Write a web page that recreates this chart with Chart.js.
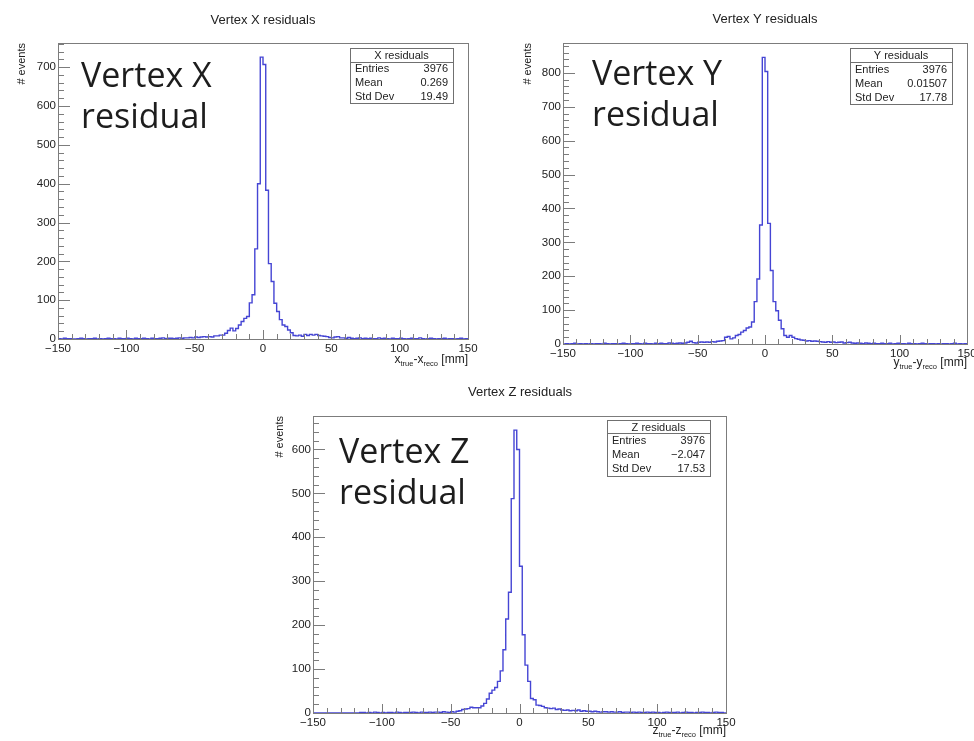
<!DOCTYPE html>
<html lang="en">
<head>
<meta charset="UTF-8">
<title>Vertex residuals</title>
<script src="https://cdn.jsdelivr.net/npm/chart.js"></script>
<style>
  body {
    margin: 0;
    width: 974px;
    height: 741px;
    background: #ffffff;
    position: relative;
    overflow: hidden;
  }
  canvas { position: absolute; }
</style>
</head>
<body>
<canvas id="cX" width="490" height="372" style="left:0;top:0"></canvas>
<canvas id="cY" width="484" height="376" style="left:490px;top:0"></canvas>
<canvas id="cZ" width="480" height="363" style="left:260px;top:378px"></canvas>

<script>
  // histogram binning: 150 bins of 2 mm from -150 to 150
  const xMin = -150, xMax = 150, binWidth = 2;

  // counts per bin, left to right
  const xCounts = [
    1,0,2,1,1,0,0,1,2,1,
    0,1,1,2,0,1,0,1,2,1,
    1,0,2,1,1,2,1,0,2,1,
    1,2,1,0,2,1,1,2,3,1,
    2,2,1,2,3,2,3,3,4,3,
    5,4,5,6,5,6,5,8,8,10,
    10,15,22,28,21,27,36,45,53,58,
    93,114,232,400,726,707,383,194,148,92,
    71,50,36,32,23,16,9,8,10,7,
    12,9,12,10,12,9,8,7,6,4,
    3,5,6,3,3,2,4,2,1,2,
    3,1,2,1,2,1,1,3,1,2,
    1,0,2,1,1,2,1,0,1,2,
    1,1,3,1,0,1,2,1,0,1,
    1,2,0,1,1,0,1,2,0,1
  ];
  const yCounts = [
    0,1,0,1,2,0,1,0,1,0,
    1,0,1,1,0,2,1,0,1,1,
    0,1,2,1,0,1,1,2,1,0,
    2,1,1,0,2,1,2,1,1,3,
    2,1,2,3,2,3,5,8,4,3,
    5,6,5,6,5,7,6,8,9,10,
    20,22,15,18,25,28,35,40,47,50,
    65,125,192,351,846,804,356,217,125,98,
    70,45,25,20,25,20,16,14,12,11,
    9,10,8,9,8,7,6,5,7,5,
    6,4,5,6,3,4,5,3,2,3,
    2,1,3,2,1,2,1,1,2,1,
    1,2,0,1,2,1,1,0,2,1,
    1,0,1,2,1,0,1,1,0,1,
    0,1,1,0,1,2,0,1,0,1
  ];
  const zCounts = [
    0,0,0,0,0,0,0,0,0,0,
    0,0,0,0,0,0,0,1,1,0,
    1,0,2,1,0,1,0,1,1,0,
    2,1,0,1,1,1,2,1,0,2,
    1,1,2,1,2,2,1,3,2,1,
    3,2,4,5,8,9,10,13,12,12,
    12,16,22,32,45,52,58,72,96,144,
    214,275,488,644,600,334,178,109,72,33,
    30,18,17,15,12,11,10,11,8,9,
    7,6,7,5,6,5,7,4,5,4,
    4,3,4,3,2,3,3,2,3,2,
    2,3,1,2,2,1,2,1,2,1,
    1,2,1,2,1,1,0,1,2,1,
    1,1,2,0,1,2,1,1,0,1,
    1,2,1,1,0,1,2,1,1,0
  ];

  // statistics boxes
  const statNames = ['Entries', 'Mean', 'Std Dev'];
  const xStats = ['3976', '0.269', '19.49'];
  const yStats = ['3976', '0.01507', '17.78'];
  const zStats = ['3976', '\u22122.047', '17.53'];

  const lineColor = '#4545d4';
  const axisColor = '#7c7c7c';
  const textColor = '#222222';
  const rootFont = '"Liberation Sans", Arial, sans-serif';
  const bigFont = '"Open Sans", "Noto Sans", sans-serif';

  function minusFmt(v) {
    return v < 0 ? '\u2212' + Math.abs(v) : String(v);
  }

  // x_true - x_reco style axis title, right aligned
  function drawAxisTitle(ctx, v, right, cy) {
    const parts = [
      { t: v, sub: false }, { t: 'true', sub: true },
      { t: '-' + v, sub: false }, { t: 'reco', sub: true },
      { t: ' [mm]', sub: false }
    ];
    const big = '12px ' + rootFont, small = '7.5px ' + rootFont;
    let w = 0;
    parts.forEach(p => { ctx.font = p.sub ? small : big; w += ctx.measureText(p.t).width; });
    let cx = right - w;
    ctx.textAlign = 'left';
    ctx.textBaseline = 'middle';
    parts.forEach(p => {
      ctx.font = p.sub ? small : big;
      ctx.fillText(p.t, cx, p.sub ? cy + 4 : cy);
      cx += ctx.measureText(p.t).width;
    });
  }

  // frame, inward ticks, titles, stats box and the big label
  const rootFrame = {
    id: 'rootFrame',
    afterDraw(chart, args, o) {
      const { ctx, chartArea: a, scales: { x, y } } = chart;
      ctx.save();
      ctx.strokeStyle = axisColor;
      ctx.lineWidth = 1;
      ctx.strokeRect(Math.round(a.left) + 0.5, Math.round(a.top) + 0.5,
        Math.round(a.right - a.left), Math.round(a.bottom - a.top));
      ctx.beginPath();
      for (let v = xMin; v <= xMax; v += 10) {
        const px = Math.round(x.getPixelForValue(v)) + 0.5;
        ctx.moveTo(px, a.bottom);
        ctx.lineTo(px, a.bottom - (v % 50 === 0 ? 9 : 5));
      }
      for (let v = 0; v <= y.max; v += 20) {
        const py = Math.round(y.getPixelForValue(v)) + 0.5;
        ctx.moveTo(a.left, py);
        ctx.lineTo(a.left + (v % 100 === 0 ? 12 : 6), py);
      }
      ctx.stroke();

      ctx.fillStyle = textColor;
      // title
      ctx.font = '13px ' + rootFont;
      ctx.textAlign = 'center';
      ctx.textBaseline = 'middle';
      ctx.fillText(o.title, o.titleX, o.titleY);

      // y axis title
      ctx.save();
      ctx.font = '11px ' + rootFont;
      ctx.translate(o.yTitleX, a.top);
      ctx.rotate(-Math.PI / 2);
      ctx.textAlign = 'right';
      ctx.textBaseline = 'middle';
      ctx.fillText('# events', 0, 0);
      ctx.restore();

      drawAxisTitle(ctx, o.v, a.right, o.xTitleY);

      // stats box
      const s = o.box;
      ctx.fillStyle = '#ffffff';
      ctx.fillRect(s.x, s.y, s.w, s.h);
      ctx.strokeStyle = '#707070';
      ctx.strokeRect(s.x + 0.5, s.y + 0.5, s.w, s.h);
      ctx.beginPath();
      ctx.moveTo(s.x, s.y + s.head + 0.5);
      ctx.lineTo(s.x + s.w, s.y + s.head + 0.5);
      ctx.stroke();
      ctx.fillStyle = textColor;
      ctx.font = '11px ' + rootFont;
      ctx.textAlign = 'center';
      ctx.fillText(o.v.toUpperCase() + ' residuals', s.x + s.w / 2, s.y + s.head / 2 + 1);
      const rowH = (s.h - s.head) / 3;
      statNames.forEach((n, i) => {
        const cy = s.y + s.head + rowH * (i + 0.5) + 0.5;
        ctx.textAlign = 'left';
        ctx.fillText(n, s.x + 5, cy);
        ctx.textAlign = 'right';
        ctx.fillText(o.stats[i], s.x + s.w - 5, cy);
      });

      // big label
      ctx.fillStyle = '#1d1d1d';
      ctx.font = '34px ' + bigFont;
      ctx.textAlign = 'left';
      ctx.textBaseline = 'alphabetic';
      ctx.fillText('Vertex ' + o.v.toUpperCase(), o.bigX, o.bigY);
      ctx.fillText('residual', o.bigX, o.bigY + 41);
      ctx.restore();
    }
  };

  function makePanel(id, counts, o) {
    const pts = counts.map((c, i) => ({ x: xMin + i * binWidth, y: c }));
    pts.push({ x: xMax, y: counts[counts.length - 1] });
    const tickFont = { family: rootFont, size: 11.5 };
    return new Chart(document.getElementById(id), {
      type: 'line',
      data: {
        datasets: [{
          data: pts,
          stepped: true,
          borderColor: lineColor,
          borderWidth: 1.4,
          pointRadius: 0,
          fill: false
        }]
      },
      options: {
        responsive: false,
        animation: false,
        devicePixelRatio: 1,
        layout: { padding: o.pad },
        plugins: {
          legend: { display: false },
          tooltip: { enabled: false },
          rootFrame: o
        },
        scales: {
          x: {
            type: 'linear',
            min: xMin,
            max: xMax,
            grid: { display: false, drawTicks: false },
            border: { display: false },
            ticks: {
              stepSize: 50, padding: 3, color: textColor, font: tickFont,
              maxRotation: 0, autoSkip: false, callback: v => minusFmt(v)
            },
            afterFit: s => { s.height = 20; s.paddingLeft = 0; s.paddingRight = 0; }
          },
          y: {
            min: 0,
            max: Math.max(...counts) * 1.05,
            grid: { display: false, drawTicks: false },
            border: { display: false },
            ticks: {
              stepSize: 100, includeBounds: false, padding: 2,
              color: textColor, font: tickFont
            },
            afterFit: s => { s.width = o.axisW; s.paddingTop = 0; s.paddingBottom = 0; }
          }
        }
      },
      plugins: [rootFrame]
    });
  }

  makePanel('cX', xCounts, {
    v: 'x', title: 'Vertex X residuals', titleX: 263, titleY: 20,
    pad: { left: 0, top: 43, right: 22, bottom: 13 }, axisW: 58,
    yTitleX: 22, xTitleY: 360,
    box: { x: 350, y: 48, w: 103, h: 55, head: 14 }, stats: xStats,
    bigX: 81, bigY: 87
  });

  makePanel('cY', yCounts, {
    v: 'y', title: 'Vertex Y residuals', titleX: 275, titleY: 19,
    pad: { left: 0, top: 43, right: 7, bottom: 12 }, axisW: 73,
    yTitleX: 38, xTitleY: 363,
    box: { x: 360, y: 48, w: 102, h: 56, head: 14 }, stats: yStats,
    bigX: 102, bigY: 85
  });

  makePanel('cZ', zCounts, {
    v: 'z', title: 'Vertex Z residuals', titleX: 260, titleY: 14,
    pad: { left: 0, top: 38, right: 14, bottom: 8 }, axisW: 53,
    yTitleX: 20, xTitleY: 353,
    box: { x: 347, y: 42, w: 103, h: 56, head: 13 }, stats: zStats,
    bigX: 79, bigY: 85
  });
</script>
</body>
</html>
